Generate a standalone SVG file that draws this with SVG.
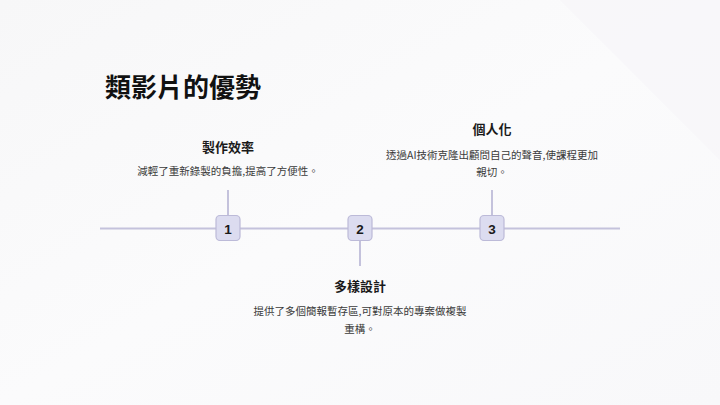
<svg xmlns="http://www.w3.org/2000/svg" width="720" height="405" viewBox="0 0 720 405">
<defs>
<linearGradient id="bg" x1="0" y1="0" x2="1" y2="1">
<stop offset="0" stop-color="#f7f7f8"/>
<stop offset="0.5" stop-color="#fbfbfc"/>
<stop offset="1" stop-color="#f8f8fa"/>
</linearGradient>
<style>
.t{font-family:"Noto Sans CJK TC","Noto Sans CJK SC",sans-serif;fill:#111;}
.h{font-size:13px;font-weight:bold;text-anchor:middle;fill:#1a1a1a;font-family:"Noto Sans CJK TC",sans-serif;}
.d{font-size:10.5px;text-anchor:middle;fill:#3a3a3a;font-family:"Noto Sans CJK TC",sans-serif;}
.n{font-size:13.5px;font-weight:bold;text-anchor:middle;fill:#1a1a1a;font-family:"Liberation Sans","Noto Sans",sans-serif;}
.box{fill:#dcdcf0;stroke:#bcbad8;stroke-width:1.2;}
.ln{stroke:#c4c2dc;stroke-width:2;fill:none;}
</style>
</defs>
<rect width="720" height="405" fill="url(#bg)"/>
<polygon points="560,0 720,0 720,160" fill="#f5f4f7" opacity="0.5"/>
<text class="t" x="105" y="97" font-size="26" font-weight="bold">類影片的優勢</text>
<g id="connectors">
<line class="ln" x1="100" y1="228.5" x2="620" y2="228.5"/>
<line class="ln" x1="228" y1="190" x2="228" y2="216"/>
<line class="ln" x1="492" y1="190" x2="492" y2="216"/>
<line class="ln" x1="360" y1="241" x2="360" y2="266"/>
</g>
<g id="node1">
<rect class="box" x="216" y="215.5" width="24" height="25" rx="4"/>
<text class="n" x="228" y="233.5">1</text>
<text class="h" x="228" y="152">製作效率</text>
<text class="d" x="228" y="175">減輕了重新錄製的負擔,提高了方便性。</text>
</g>
<g id="node2">
<rect class="box" x="348" y="215.5" width="24" height="25" rx="4"/>
<text class="n" x="360" y="233.5">2</text>
<text class="h" x="360" y="291">多樣設計</text>
<text class="d" x="360" y="315">提供了多個簡報暫存區,可對原本的專案做複製</text>
<text class="d" x="360" y="333">重構。</text>
</g>
<g id="node3">
<rect class="box" x="480" y="215.5" width="24" height="25" rx="4"/>
<text class="n" x="492" y="233.5">3</text>
<text class="h" x="492" y="134">個人化</text>
<text class="d" x="492" y="159">透過AI技術克隆出顧問自己的聲音,使課程更加</text>
<text class="d" x="492" y="176">親切。</text>
</g>
</svg>
